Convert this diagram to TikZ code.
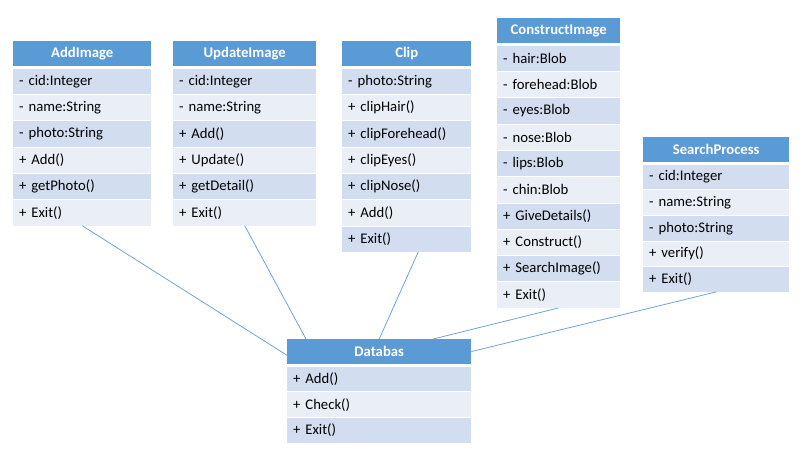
\documentclass[tikz,border=0pt]{standalone}
\usepackage{fontspec}
\setmainfont{Carlito}
\usetikzlibrary{calc}
\definecolor{hdrblue}{HTML}{5B9BD5}
\definecolor{rowdark}{HTML}{D2DEEF}
\definecolor{rowlight}{HTML}{EAEFF7}
\definecolor{linkblue}{HTML}{6FA5DA}
\tikzset{
  hdr/.style={fill=hdrblue, text=white, font=\fontsize{14.7}{17}\selectfont\bfseries,
    minimum height=24.7pt, inner sep=0pt, anchor=north west},
  rowbox/.style={font=\fontsize{14.7}{17}\selectfont, text=black,
    inner xsep=6pt, inner ysep=0pt, align=left, anchor=north west},
  link/.style={draw=linkblue, line width=0.8pt}
}
\newcommand\umlclass[7]{%
  \node[hdr, minimum width=#4pt] (#1-h) at (#2,#3) {#6};
  \foreach \t [count=\i] in {#7} {
    \pgfmathsetmacro\yy{#3+27.5+(\i-1)*#5}
    \pgfmathsetmacro\hh{#5-1}
    \ifodd\i \def\rc{rowdark}\else\def\rc{rowlight}\fi
    \node[rowbox, fill=\rc, minimum height=\hh pt, text width=#4pt-12pt] (#1-\i) at (#2,\yy) {\t};
  }%
}
\begin{document}
\begin{tikzpicture}[x=1pt,y=-1pt]
\useasboundingbox (0,0) rectangle (807,452);
\fill[white] (0,0) rectangle (807,452);
\umlclass{add}{13}{41}{138}{26.3}{AddImage}{- cid:Integer,- name:String,- photo:String,+ Add(),+ getPhoto(),+ Exit()}
\umlclass{upd}{173}{41}{143}{26.3}{UpdateImage}{- cid:Integer,- name:String,+ Add(),+ Update(),+ getDetail(),+ Exit()}
\umlclass{clip}{342}{41}{129}{26.3}{Clip}{- photo:String,+ clipHair(),+ clipForehead(),+ clipEyes(),+ clipNose(),+ Add(),+ Exit()}
\umlclass{con}{497}{18}{123}{26.3}{ConstructImage}{- hair:Blob,- forehead:Blob,- eyes:Blob,- nose:Blob,- lips:Blob,- chin:Blob,+ GiveDetails(),+ Construct(),+ SearchImage(),+ Exit()}
\umlclass{sea}{643}{137}{146}{25.6}{SearchProcess}{- cid:Integer,- name:String,- photo:String,+ verify(),+ Exit()}
\umlclass{db}{287}{339}{184}{25.7}{Databas}{+ Add(),+ Check(),+ Exit()}
\draw[link] (add-6.south) -- ($(db-h.north west)!0.65!(db-h.south west)$);
\draw[link] (upd-6.south) -- ($(db-h.north west)!0.103!(db-h.north east)$);
\draw[link] ($(clip-7.south west)!0.589!(clip-7.south east)$) -- (db-h.north);
\draw[link] (con-10.south) -- ($(db-h.north west)!0.793!(db-h.north east)$);
\draw[link] (sea-5.south) -- (db-h.east);
\end{tikzpicture}
\end{document}
